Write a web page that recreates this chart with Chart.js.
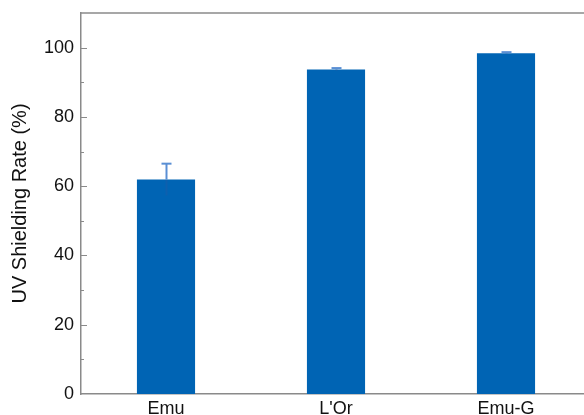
<!DOCTYPE html>
<html>
<head>
<meta charset="utf-8">
<script src="https://cdn.jsdelivr.net/npm/chart.js@4/dist/chart.umd.min.js"></script>
<style>
  html, body { margin: 0; padding: 0; background: #fff; overflow: hidden; }
  #wrap { position: relative; width: 592px; height: 415px; }
</style>
</head>
<body>
<div id="wrap"><canvas id="chart"></canvas></div>
<script>
// Samples and their UV shielding rate (%)
const categories = ['Emu', "L'Or", 'Emu-G'];
const shieldingRate = [61.9, 93.7, 98.4];
const shieldingError = [4.6, 0.4, 0.3];

const yMin = 0;
const yMax = 110;

const AXIS_COLOR = '#8a8a8a';
const BAR_COLOR = '#0064b4';
const ERR_COLOR = '#5a8fd4';

// Inward tick marks, top frame line and error bars
const decorations = {
  id: 'decorations',
  afterDatasetsDraw(chart) {
    const ctx = chart.ctx;
    const y = chart.scales.y;
    const area = chart.chartArea;
    ctx.save();

    // error bars
    const meta = chart.getDatasetMeta(0);
    meta.data.forEach((bar, i) => {
      const cx = Math.round(bar.x) + 0.5;
      const v = shieldingRate[i];
      const e = shieldingError[i];
      const yTop = y.getPixelForValue(v + e);
      const yBar = y.getPixelForValue(v);
      const yLow = y.getPixelForValue(v - e);
      ctx.lineWidth = 2;
      // lower half sits over the bar
      ctx.strokeStyle = 'rgba(40,90,160,0.35)';
      ctx.beginPath();
      ctx.moveTo(cx, yBar);
      ctx.lineTo(cx, yLow);
      ctx.stroke();
      // upper half
      ctx.strokeStyle = ERR_COLOR;
      ctx.beginPath();
      ctx.moveTo(cx, yBar);
      ctx.lineTo(cx, yTop);
      ctx.stroke();
      ctx.beginPath();
      ctx.moveTo(cx - 5, yTop);
      ctx.lineTo(cx + 5, yTop);
      ctx.stroke();
    });

    // inward y ticks: major every 20, minor every 10
    ctx.strokeStyle = AXIS_COLOR;
    ctx.lineWidth = 1;
    for (let v = 10; v < yMax; v += 10) {
      const py = Math.round(y.getPixelForValue(v)) + 0.5;
      const len = (v % 20 === 0) ? 6 : 3;
      ctx.beginPath();
      ctx.moveTo(area.left, py);
      ctx.lineTo(area.left + len, py);
      ctx.stroke();
    }

    // top frame line
    ctx.lineWidth = 1.5;
    ctx.beginPath();
    ctx.moveTo(area.left, area.top);
    ctx.lineTo(area.right + 2, area.top);
    ctx.stroke();
    ctx.restore();
  }
};

new Chart(document.getElementById('chart'), {
  type: 'bar',
  data: {
    labels: categories,
    datasets: [{
      data: shieldingRate,
      backgroundColor: BAR_COLOR,
      borderWidth: 0,
      barPercentage: 0.342,
      categoryPercentage: 1.0
    }]
  },
  options: {
    responsive: true,
    maintainAspectRatio: false,
    animation: false,
    devicePixelRatio: 1,
    layout: { padding: { top: 13, right: 1, left: 0, bottom: 0 } },
    plugins: {
      legend: { display: false },
      tooltip: { enabled: false }
    },
    scales: {
      x: {
        grid: { display: false, drawTicks: false },
        border: { color: AXIS_COLOR, width: 1.5 },
        ticks: {
          color: '#111',
          padding: 4,
          font: { family: 'Liberation Sans, Arial, sans-serif', size: 18 },
          maxRotation: 0
        },
        afterFit(scale) {
          scale.height = 21;
          scale.paddingLeft = 0;
          scale.paddingRight = 0;
        }
      },
      y: {
        min: yMin,
        max: yMax,
        grid: { display: false, drawTicks: false },
        border: { color: AXIS_COLOR, width: 1.5 },
        ticks: {
          stepSize: 10,
          color: '#111',
          padding: 7,
          font: { family: 'Liberation Sans, Arial, sans-serif', size: 18 },
          callback: (v) => (v % 20 === 0 && v <= 100) ? v : ''
        },
        title: {
          display: true,
          text: 'UV Shielding Rate (%)',
          color: '#111',
          padding: { top: 8, bottom: 0 },
          font: { family: 'Liberation Sans, Arial, sans-serif', size: 20 }
        },
        afterFit(scale) {
          scale.width = 81;
          scale.paddingTop = 0;
          scale.paddingBottom = 0;
        }
      }
    }
  },
  plugins: [decorations]
});
</script>
</body>
</html>
